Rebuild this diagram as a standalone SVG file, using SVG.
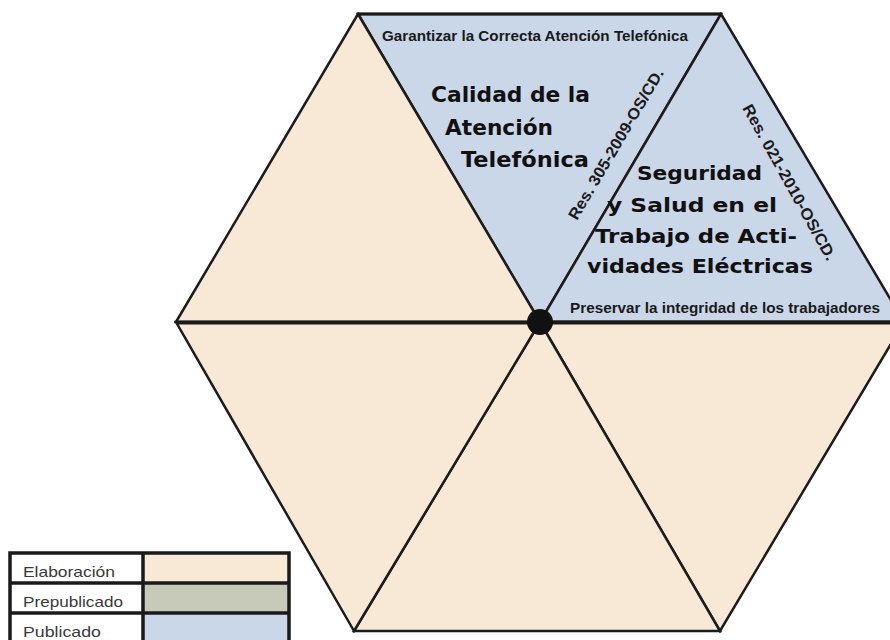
<svg xmlns="http://www.w3.org/2000/svg" width="890" height="640" viewBox="0 0 890 640">
<style>
.tri{stroke:#1c1c1c;stroke-width:2.5;stroke-linejoin:miter}
.beige{fill:#f7e9d5}
.blue{fill:#c9d7e8}
.green{fill:#c7cab9}
.head{font-family:"DejaVu Sans","Liberation Sans",sans-serif;font-weight:bold;fill:#111}
.cond{font-family:"Liberation Sans Narrow","Liberation Sans",sans-serif;font-weight:bold;fill:#1a1a1a}
.leg{font-family:"Liberation Sans","DejaVu Sans",sans-serif;fill:#3a3a3a;font-size:15px}
.cell{fill:none;stroke:#1a1a1a;stroke-width:3.5}
</style>
<rect width="890" height="640" fill="#ffffff"/>
<g id="hexagon">
<g id="t-top"><polygon class="tri blue" points="358,14 721,14 540,322"/></g>
<g id="t-upper-right"><polygon class="tri blue" points="721,14 904,322 540,322"/></g>
<g id="t-lower-right"><polygon class="tri beige" points="904,322 720,631 540,322"/></g>
<g id="t-bottom"><polygon class="tri beige" points="720,631 354,631 540,322"/></g>
<g id="t-lower-left"><polygon class="tri beige" points="354,631 176,322 540,322"/></g>
<g id="t-upper-left"><polygon class="tri beige" points="176,322 358,14 540,322"/></g>
</g>
<g id="connectors">
<line x1="176" y1="322.5" x2="904" y2="322.5" stroke="#1a1a1a" stroke-width="4"/>
<line x1="358" y1="14" x2="721" y2="14" stroke="#1a1a1a" stroke-width="3"/>
</g>
<g id="center-dot"><circle cx="540" cy="322" r="13" fill="#111"/></g>
<g id="label-calidad">
<text class="cond" x="382" y="41" font-size="15" textLength="306" lengthAdjust="spacingAndGlyphs">Garantizar la Correcta Atención Telefónica</text>
<text class="head" x="431" y="102" font-size="21.5" textLength="159" lengthAdjust="spacingAndGlyphs">Calidad de la</text>
<text class="head" x="445" y="135" font-size="21.5" textLength="108" lengthAdjust="spacingAndGlyphs">Atención</text>
<text class="head" x="461" y="167" font-size="21.5" textLength="128" lengthAdjust="spacingAndGlyphs">Telefónica</text>
<text class="cond" font-size="16" textLength="172" lengthAdjust="spacingAndGlyphs" transform="translate(577,221) rotate(-59.5)">Res. 305-2009-OS/CD.</text>
</g>
<g id="label-seguridad">
<text class="head" x="637" y="180" font-size="19" textLength="125" lengthAdjust="spacingAndGlyphs">Seguridad</text>
<text class="head" x="607" y="212" font-size="19" textLength="170" lengthAdjust="spacingAndGlyphs">y Salud en el</text>
<text class="head" x="595" y="243" font-size="19" textLength="202" lengthAdjust="spacingAndGlyphs">Trabajo de Acti-</text>
<text class="head" x="587" y="273" font-size="19" textLength="226" lengthAdjust="spacingAndGlyphs">vidades Eléctricas</text>
<text class="cond" x="570" y="313" font-size="15" textLength="310" lengthAdjust="spacingAndGlyphs">Preservar la integridad de los trabajadores</text>
<text class="cond" font-size="16" textLength="176" lengthAdjust="spacingAndGlyphs" transform="translate(742,108) rotate(61)">Res. 021-2010-OS/CD.</text>
</g>
<g id="legend">
<rect x="143" y="553" width="146" height="30" class="beige"/>
<rect x="143" y="583" width="146" height="30" class="green"/>
<rect x="143" y="613" width="146" height="30" class="blue"/>
<rect x="10" y="553" width="279" height="90" class="cell"/>
<line x1="143" y1="553" x2="143" y2="643" class="cell"/>
<line x1="10" y1="583" x2="289" y2="583" class="cell"/>
<line x1="10" y1="613" x2="289" y2="613" class="cell"/>
<text class="leg" x="23" y="577" textLength="92" lengthAdjust="spacingAndGlyphs">Elaboración</text>
<text class="leg" x="23" y="607" textLength="100" lengthAdjust="spacingAndGlyphs">Prepublicado</text>
<text class="leg" x="23" y="637" textLength="78" lengthAdjust="spacingAndGlyphs">Publicado</text>
</g>
</svg>
